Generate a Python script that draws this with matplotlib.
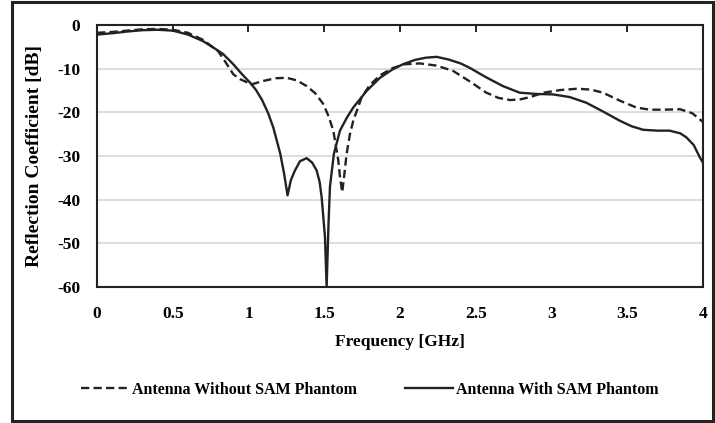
import matplotlib
matplotlib.use("Agg")
import matplotlib.pyplot as plt
from matplotlib.patches import Rectangle

# Antenna Without SAM Phantom (dashed)
freq_without = [0.00, 0.10, 0.20, 0.30, 0.40, 0.50, 0.60, 0.70, 0.80, 0.85,
                0.90, 0.944, 1.02, 1.10, 1.18, 1.252, 1.32, 1.384, 1.44, 1.494,
                1.53, 1.56, 1.593, 1.605, 1.619, 1.632, 1.648, 1.67, 1.692, 1.747,
                1.80, 1.87, 1.95, 2.03, 2.13, 2.24, 2.35, 2.46, 2.57, 2.65,
                2.73, 2.80, 2.86, 2.95, 3.06, 3.17, 3.26, 3.34, 3.45, 3.56,
                3.65, 3.74, 3.85, 3.93, 3.99, 4.00]
s11_without = [-1.8, -1.6, -1.3, -1.0, -0.9, -1.1, -1.8, -3.4, -6.0, -8.6,
               -11.3, -12.4, -13.6, -12.8, -12.2, -12.1, -12.7, -14.0, -15.6, -18.1,
               -21.0, -24.2, -31.0, -35.0, -38.3, -34.5, -29.5, -25.0, -21.9, -16.6,
               -13.8, -11.5, -9.9, -9.0, -8.8, -9.3, -10.5, -12.9, -15.5, -16.7,
               -17.2, -17.0, -16.5, -15.5, -14.9, -14.6, -14.8, -15.5, -17.3, -18.9,
               -19.4, -19.4, -19.3, -20.2, -21.9, -22.2]

# Antenna With SAM Phantom (solid)
freq_with = [0.00, 0.10, 0.20, 0.30, 0.40, 0.50, 0.60, 0.70, 0.80, 0.834,
             0.90, 0.95, 1.01, 1.05, 1.09, 1.13, 1.164, 1.21, 1.235, 1.258,
             1.28, 1.307, 1.34, 1.384, 1.42, 1.45, 1.47, 1.483, 1.505, 1.516,
             1.528, 1.538, 1.564, 1.604, 1.65, 1.692, 1.78, 1.868, 1.95, 2.02,
             2.10, 2.17, 2.242, 2.32, 2.40, 2.46, 2.57, 2.68, 2.79, 2.90,
             3.01, 3.12, 3.23, 3.34, 3.45, 3.53, 3.606, 3.70, 3.78, 3.85,
             3.89, 3.94, 3.98, 4.00]
s11_with = [-2.2, -1.9, -1.5, -1.2, -1.1, -1.3, -2.2, -3.7, -5.9, -6.7,
            -9.0, -11.0, -13.2, -14.9, -17.2, -20.2, -23.5, -29.5, -34.0, -39.0,
            -35.5, -33.3, -31.2, -30.5, -31.5, -33.3, -36.0, -39.4, -48.5, -60.0,
            -46.0, -37.0, -29.5, -24.2, -21.2, -18.9, -15.1, -12.1, -10.2, -9.0,
            -8.0, -7.5, -7.3, -7.9, -8.8, -9.8, -12.0, -14.0, -15.5, -15.8,
            -15.9, -16.5, -17.8, -19.8, -21.9, -23.2, -24.0, -24.2, -24.2, -24.8,
            -25.7, -27.5, -30.3, -31.5]

xticks = [0, 0.5, 1, 1.5, 2, 2.5, 3, 3.5, 4]
xtick_labels = ["0", "0.5", "1", "1.5", "2", "2.5", "3", "3.5", "4"]
yticks = [0, -10, -20, -30, -40, -50, -60]

plt.rcParams["font.family"] = ["Liberation Serif", "DejaVu Serif"]
plt.rcParams["font.weight"] = "bold"
plt.rcParams["axes.unicode_minus"] = False

fig = plt.figure(figsize=(7.15, 4.23), dpi=100)
ax = fig.add_axes([0.1357, 0.3215, 0.8473, 0.6195])

ax.plot(freq_without, s11_without, color="#222222", lw=1.7, ls=(0, (3.5, 1.8)),
        label="Antenna Without SAM Phantom")
ax.plot(freq_with, s11_with, color="#222222", lw=1.7,
        label="Antenna With SAM Phantom")

ax.set_xlim(0, 4)
ax.set_ylim(-60, 0)
ax.set_xticks(xticks)
ax.set_xticklabels(xtick_labels)
ax.set_yticks(yticks)
ax.yaxis.grid(True, color="#d9dbe3", lw=1.3)
ax.set_axisbelow(True)
ax.tick_params(axis="x", bottom=False, top=True, direction="in", length=5,
               width=1.2, labelsize=12.5, pad=14)
ax.tick_params(axis="y", length=0, labelsize=12.5, pad=12)
for lbl in ax.get_xticklabels() + ax.get_yticklabels():
    lbl.set_fontweight("bold")
for sp in ax.spines.values():
    sp.set_linewidth(1.5)
    sp.set_color("#222222")

ax.set_xlabel("Frequency [GHz]", fontsize=12.5, fontweight="bold", labelpad=8)
ax.set_ylabel("Reflection Coefficient [dB]", fontsize=14, fontweight="bold", labelpad=10)

fig.legend(loc="center", bbox_to_anchor=(0.517, 0.078), ncol=2, frameon=False,
           handlelength=3.0, columnspacing=3.0, handletextpad=0.2,
           prop={"weight": "bold", "size": 11.5})

fig.patches.append(Rectangle((12 / 715, 2 / 423), 701 / 715, 419 / 423,
                             transform=fig.transFigure, fill=False,
                             lw=2.2, edgecolor="#222222"))

fig.savefig("out.png", dpi=100)
